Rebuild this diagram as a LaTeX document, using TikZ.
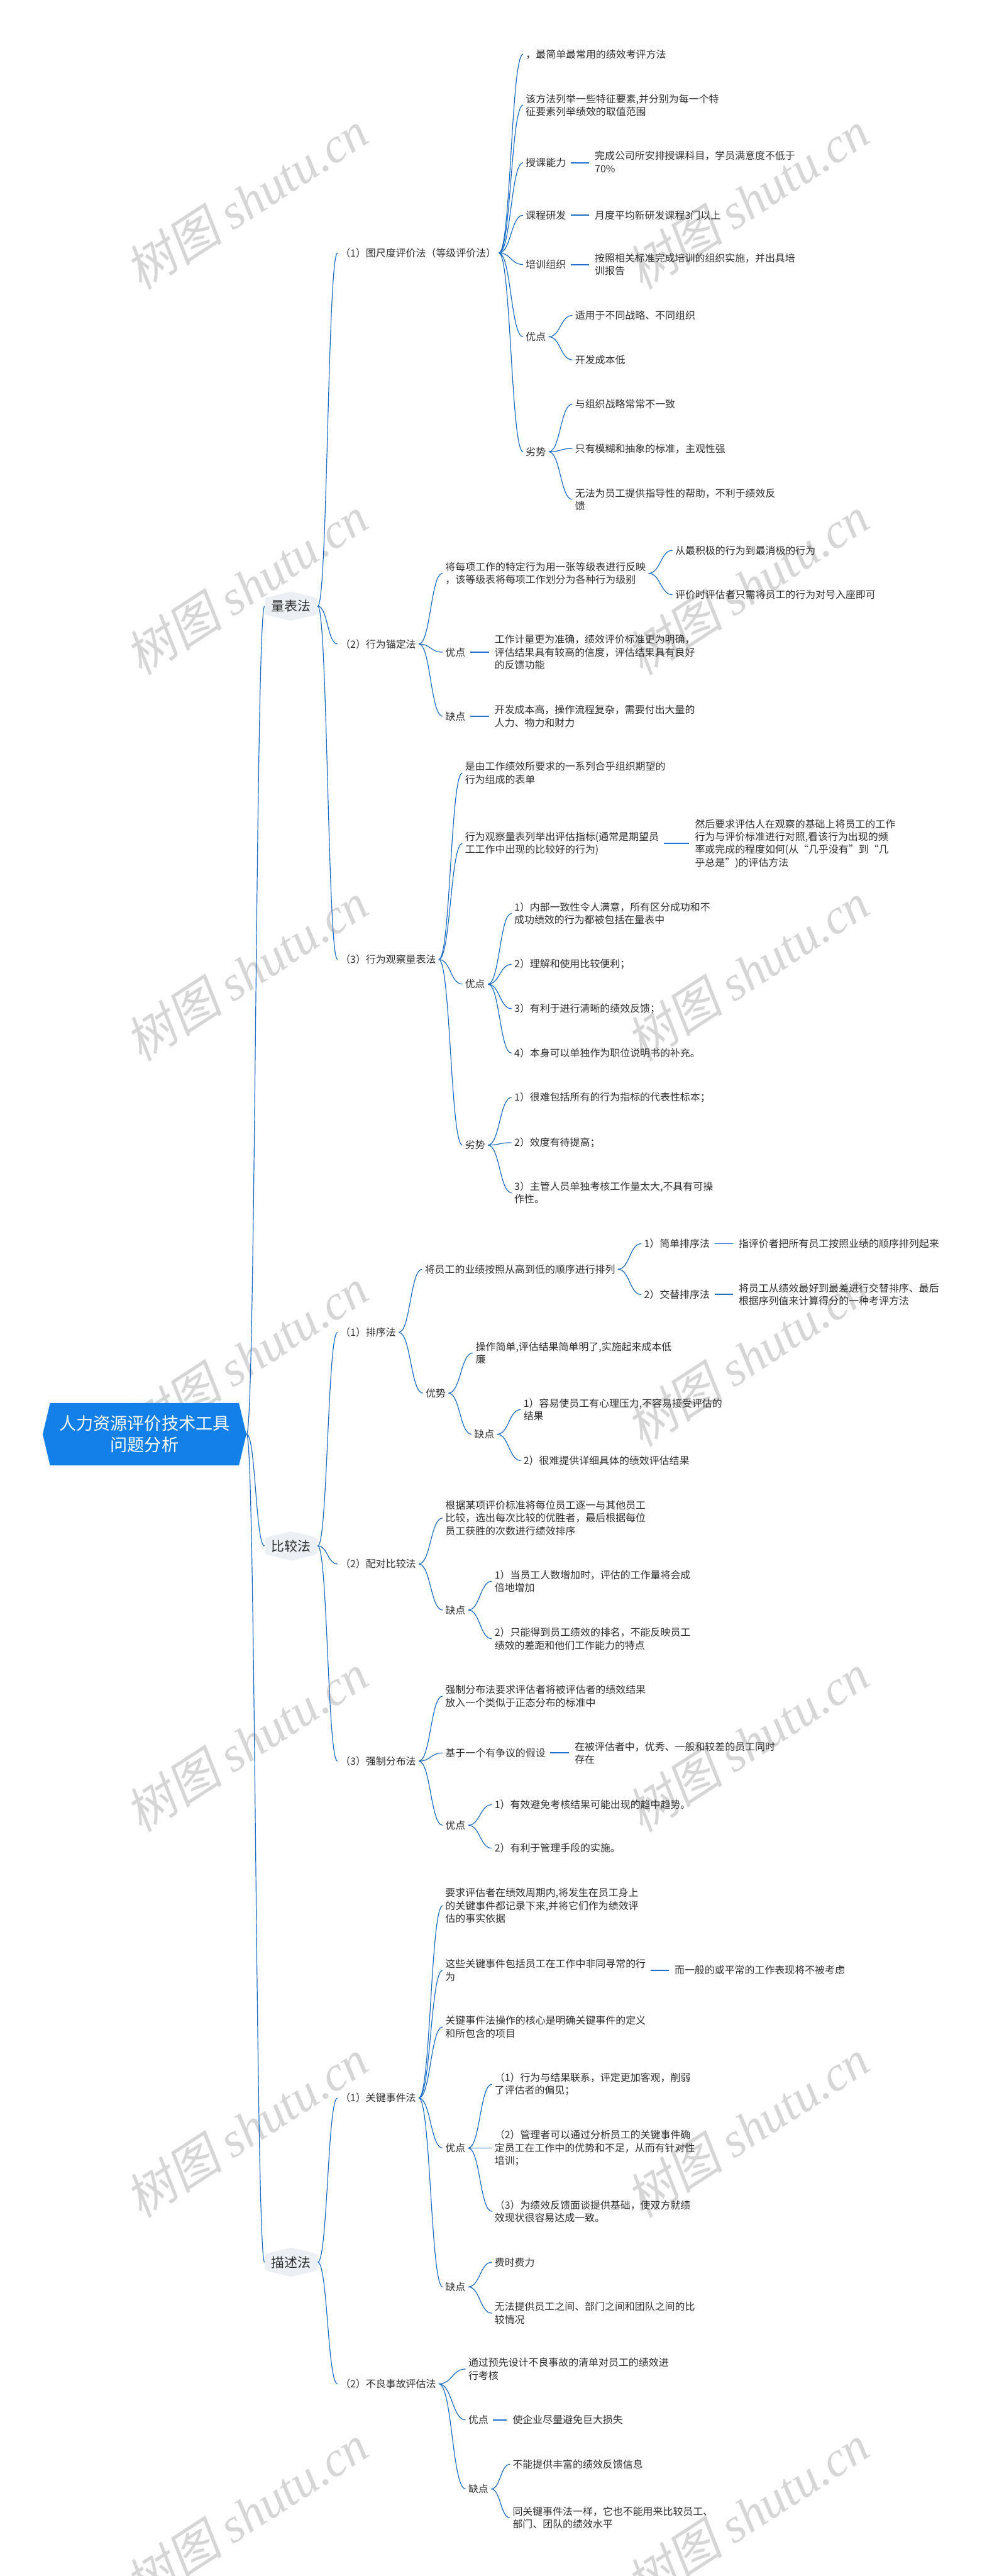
\documentclass[tikz,border=0pt]{standalone}
\usepackage{fontspec}
\setmainfont{Noto Sans CJK SC}
\newfontfamily\wmlatin{Liberation Serif}
\newfontfamily\wmcjk{Noto Sans CJK SC}[FakeSlant=0.2]
\usetikzlibrary{calc}
\definecolor{linkblue}{RGB}{25,105,195}
\definecolor{soloblue}{RGB}{32,112,205}
\definecolor{rootblue}{RGB}{18,128,232}
\definecolor{hexgray}{RGB}{236,240,245}
\definecolor{inkgray}{RGB}{45,45,45}
\definecolor{wmgray}{RGB}{214,214,214}

\begin{document}
\begin{tikzpicture}[
  x=1pt, y=-1pt,
  tbox/.style={anchor=west, xshift=-1.5pt, inner xsep=1.5pt, inner ysep=0.5pt,
               align=left, text=inkgray, font=\fontsize{6.1}{7.8}\selectfont},
  hbox/.style={minimum width=32pt, minimum height=18pt, inner sep=0pt, text=inkgray,
               font=\fontsize{8}{9.6}\selectfont,
               path picture={\fill[hexgray, rounded corners=1.5pt]
                 ([yshift=-4pt]path picture bounding box.north west) -- (path picture bounding box.north)
                 -- ([yshift=-4pt]path picture bounding box.north east) -- ([yshift=4pt]path picture bounding box.south east)
                 -- (path picture bounding box.south) -- ([yshift=4pt]path picture bounding box.south west) -- cycle;}},
  rbox/.style={minimum width=124pt, minimum height=38pt, inner sep=0pt, align=center, text=white,
               font=\fontsize{10.4}{13}\selectfont,
               path picture={\fill[rootblue]
                 (path picture bounding box.west) -- ([xshift=4.5pt]path picture bounding box.north west)
                 -- ([xshift=-4.5pt]path picture bounding box.north east) -- (path picture bounding box.east)
                 -- ([xshift=-4.5pt]path picture bounding box.south east) -- ([xshift=4.5pt]path picture bounding box.south west) -- cycle;}},
  wmark/.style={rotate=33, inner sep=0pt, text=wmgray, font=\fontsize{30}{30}\selectfont},
  lnk/.style={draw=linkblue, line width=0.45pt},
  solo/.style={draw=soloblue, line width=0.75pt, shorten <=1.2pt, shorten >=1.8pt}
]
\useasboundingbox (0,0) rectangle (601,1568);

% watermark
\foreach \k in {0,...,6} {
  \node[wmark] (wl\k) at (150,122+234.7*\k) {{\wmcjk 树图} {\wmlatin\itshape shutu.cn}};
  \node[wmark] (wr\k) at (455,122+234.7*\k) {{\wmcjk 树图} {\wmlatin\itshape shutu.cn}};
}

% root and main branches
\node[rbox] (r) at (88,873) {人力资源评价技术工具\\问题分析};
\node[hbox] (lbf) at (177.3,369) {量表法};
\node[hbox] (bjf) at (177.3,941) {比较法};
\node[hbox] (msf) at (177.3,1377) {描述法};

% 量表法
\node[tbox] (lb1) at (207,154) {（1）图尺度评价法（等级评价法）};
\node[tbox] (lb1a) at (320,33) {，最简单最常用的绩效考评方法};
\node[tbox] (lb1b) at (320,64) {该方法列举一些特征要素,并分别为每一个特\\征要素列举绩效的取值范围};
\node[tbox] (lb1c) at (320,99) {授课能力};
\node[tbox] (lb1c1) at (362,98.5) {完成公司所安排授课科目，学员满意度不低于\\70\%};
\node[tbox] (lb1d) at (320,131) {课程研发};
\node[tbox] (lb1d1) at (362,131) {月度平均新研发课程3门以上};
\node[tbox] (lb1e) at (320,161) {培训组织};
\node[tbox] (lb1e1) at (362,161) {按照相关标准完成培训的组织实施，并出具培\\训报告};
\node[tbox] (lb1f) at (320,205) {优点};
\node[tbox] (lb1f1) at (350,192) {适用于不同战略、不同组织};
\node[tbox] (lb1f2) at (350,219) {开发成本低};
\node[tbox] (lb1g) at (320,275) {劣势};
\node[tbox] (lb1g1) at (350,246) {与组织战略常常不一致};
\node[tbox] (lb1g2) at (350,273) {只有模糊和抽象的标准，主观性强};
\node[tbox] (lb1g3) at (350,304) {无法为员工提供指导性的帮助，不利于绩效反\\馈};

\node[tbox] (lb2) at (207,392) {（2）行为锚定法};
\node[tbox] (lb2a) at (271,349) {将每项工作的特定行为用一张等级表进行反映\\，该等级表将每项工作划分为各种行为级别};
\node[tbox] (lb2a1) at (411,335) {从最积极的行为到最消极的行为};
\node[tbox] (lb2a2) at (411,362) {评价时评估者只需将员工的行为对号入座即可};
\node[tbox] (lb2b) at (271,397) {优点};
\node[tbox] (lb2b1) at (301,397) {工作计量更为准确，绩效评价标准更为明确，\\评估结果具有较高的信度，评估结果具有良好\\的反馈功能};
\node[tbox] (lb2c) at (271,436) {缺点};
\node[tbox] (lb2c1) at (301,436) {开发成本高，操作流程复杂，需要付出大量的\\人力、物力和财力};

\node[tbox] (lb3) at (207,584) {（3）行为观察量表法};
\node[tbox] (lb3a) at (283,470.5) {是由工作绩效所要求的一系列合乎组织期望的\\行为组成的表单};
\node[tbox] (lb3b) at (283,513.5) {行为观察量表列举出评估指标(通常是期望员\\工工作中出现的比较好的行为)};
\node[tbox] (lb3b1) at (423,513.5) {然后要求评估人在观察的基础上将员工的工作\\行为与评价标准进行对照,看该行为出现的频\\率或完成的程度如何(从“几乎没有”到“几\\乎总是”)的评估方法};
\node[tbox] (lb3c) at (283,599) {优点};
\node[tbox] (lb3c1) at (313,556) {1）内部一致性令人满意，所有区分成功和不\\成功绩效的行为都被包括在量表中};
\node[tbox] (lb3c2) at (313,587) {2）理解和使用比较便利；};
\node[tbox] (lb3c3) at (313,614) {3）有利于进行清晰的绩效反馈；};
\node[tbox] (lb3c4) at (313,641) {4）本身可以单独作为职位说明书的补充。};
\node[tbox] (lb3d) at (283,697) {劣势};
\node[tbox] (lb3d1) at (313,668) {1）很难包括所有的行为指标的代表性标本；};
\node[tbox] (lb3d2) at (313,695.5) {2）效度有待提高；};
\node[tbox] (lb3d3) at (313,726) {3）主管人员单独考核工作量太大,不具有可操\\作性。};

% 比较法
\node[tbox] (bj1) at (207,811) {（1）排序法};
\node[tbox] (bj1a) at (258.5,772.6) {将员工的业绩按照从高到低的顺序进行排列};
\node[tbox] (bj1a1) at (392,757) {1）简单排序法};
\node[tbox] (bj1a1x) at (449.6,757) {指评价者把所有员工按照业绩的顺序排列起来};
\node[tbox] (bj1a2) at (392,788) {2）交替排序法};
\node[tbox] (bj1a2x) at (449.6,788) {将员工从绩效最好到最差进行交替排序、最后\\根据序列值来计算得分的一种考评方法};
\node[tbox] (bj1b) at (259,848) {优势};
\node[tbox] (bj1b1) at (289.5,823.5) {操作简单,评估结果简单明了,实施起来成本低\\廉};
\node[tbox] (bj1b2) at (288.6,873) {缺点};
\node[tbox] (bj1b2a) at (318.6,858) {1）容易使员工有心理压力,不容易接受评估的\\结果};
\node[tbox] (bj1b2b) at (318.6,889) {2）很难提供详细具体的绩效评估结果};

\node[tbox] (bj2) at (207,952) {（2）配对比较法};
\node[tbox] (bj2a) at (271,924) {根据某项评价标准将每位员工逐一与其他员工\\比较，选出每次比较的优胜者，最后根据每位\\员工获胜的次数进行绩效排序};
\node[tbox] (bj2b) at (271,980) {缺点};
\node[tbox] (bj2b1) at (301,962.5) {1）当员工人数增加时，评估的工作量将会成\\倍地增加};
\node[tbox] (bj2b2) at (301,997.5) {2）只能得到员工绩效的排名，不能反映员工\\绩效的差距和他们工作能力的特点};

\node[tbox] (bj3) at (207,1072) {（3）强制分布法};
\node[tbox] (bj3a) at (271,1032.4) {强制分布法要求评估者将被评估者的绩效结果\\放入一个类似于正态分布的标准中};
\node[tbox] (bj3b) at (271,1067) {基于一个有争议的假设};
\node[tbox] (bj3b1) at (349.8,1067) {在被评估者中，优秀、一般和较差的员工同时\\存在};
\node[tbox] (bj3c) at (271,1111) {优点};
\node[tbox] (bj3c1) at (301,1098.5) {1）有效避免考核结果可能出现的趋中趋势。};
\node[tbox] (bj3c2) at (301,1125) {2）有利于管理手段的实施。};

% 描述法
\node[tbox] (ms1) at (207,1277) {（1）关键事件法};
\node[tbox] (ms1a) at (271,1160) {要求评估者在绩效周期内,将发生在员工身上\\的关键事件都记录下来,并将它们作为绩效评\\估的事实依据};
\node[tbox] (ms1b) at (271,1199.3) {这些关键事件包括员工在工作中非同寻常的行\\为};
\node[tbox] (ms1b1) at (410.6,1199.3) {而一般的或平常的工作表现将不被考虑};
\node[tbox] (ms1c) at (271,1233.8) {关键事件法操作的核心是明确关键事件的定义\\和所包含的项目};
\node[tbox] (ms1d) at (271,1307.5) {优点};
\node[tbox] (ms1d1) at (301,1268.7) {（1）行为与结果联系，评定更加客观，削弱\\了评估者的偏见；};
\node[tbox] (ms1d2) at (301,1307.5) {（2）管理者可以通过分析员工的关键事件确\\定员工在工作中的优势和不足，从而有针对性\\培训；};
\node[tbox] (ms1d3) at (301,1346) {（3）为绩效反馈面谈提供基础，使双方就绩\\效现状很容易达成一致。};
\node[tbox] (ms1e) at (271,1392) {缺点};
\node[tbox] (ms1e1) at (301,1377) {费时费力};
\node[tbox] (ms1e2) at (301,1408) {无法提供员工之间、部门之间和团队之间的比\\较情况};

\node[tbox] (ms2) at (207,1451) {（2）不良事故评估法};
\node[tbox] (ms2a) at (285,1442) {通过预先设计不良事故的清单对员工的绩效进\\行考核};
\node[tbox] (ms2b) at (285,1473) {优点};
\node[tbox] (ms2b1) at (312,1473) {使企业尽量避免巨大损失};
\node[tbox] (ms2c) at (285,1515) {缺点};
\node[tbox] (ms2c1) at (312,1500) {不能提供丰富的绩效反馈信息};
\node[tbox] (ms2c2) at (312,1532.5) {同关键事件法一样，它也不能用来比较员工、\\部门、团队的绩效水平};

% curved links
\foreach \a/\b in {r/lbf, r/bjf, r/msf,
    lbf/lb1, lbf/lb2, lbf/lb3,
    lb1/lb1a, lb1/lb1b, lb1/lb1c, lb1/lb1d, lb1/lb1e, lb1/lb1f, lb1/lb1g,
    lb1f/lb1f1, lb1f/lb1f2, lb1g/lb1g1, lb1g/lb1g2, lb1g/lb1g3,
    lb2/lb2a, lb2/lb2b, lb2/lb2c, lb2a/lb2a1, lb2a/lb2a2,
    lb3/lb3a, lb3/lb3b, lb3/lb3c, lb3/lb3d,
    lb3c/lb3c1, lb3c/lb3c2, lb3c/lb3c3, lb3c/lb3c4,
    lb3d/lb3d1, lb3d/lb3d2, lb3d/lb3d3,
    bjf/bj1, bjf/bj2, bjf/bj3,
    bj1/bj1a, bj1/bj1b, bj1a/bj1a1, bj1a/bj1a2,
    bj1b/bj1b1, bj1b/bj1b2, bj1b2/bj1b2a, bj1b2/bj1b2b,
    bj2/bj2a, bj2/bj2b, bj2b/bj2b1, bj2b/bj2b2,
    bj3/bj3a, bj3/bj3b, bj3/bj3c, bj3c/bj3c1, bj3c/bj3c2,
    msf/ms1, msf/ms2,
    ms1/ms1a, ms1/ms1b, ms1/ms1c, ms1/ms1d, ms1/ms1e,
    ms1d/ms1d1, ms1d/ms1d2, ms1d/ms1d3, ms1e/ms1e1, ms1e/ms1e2,
    ms2/ms2a, ms2/ms2b, ms2/ms2c, ms2c/ms2c1, ms2c/ms2c2}
  \draw[lnk] (\a.east) .. controls ($(\a.east)!0.5!(\b.west |- \a.east)$)
    and ($(\b.west)!0.5!(\a.east |- \b.west)$) .. (\b.west);

% single-child dashes
\foreach \a/\b in {lb1c/lb1c1, lb1d/lb1d1, lb1e/lb1e1, lb2b/lb2b1, lb2c/lb2c1,
    lb3b/lb3b1, bj1a1/bj1a1x, bj1a2/bj1a2x, bj3b/bj3b1, ms1b/ms1b1, ms2b/ms2b1}
  \draw[solo] (\a.east) -- (\a.east -| \b.west);
\end{tikzpicture}
\end{document}
